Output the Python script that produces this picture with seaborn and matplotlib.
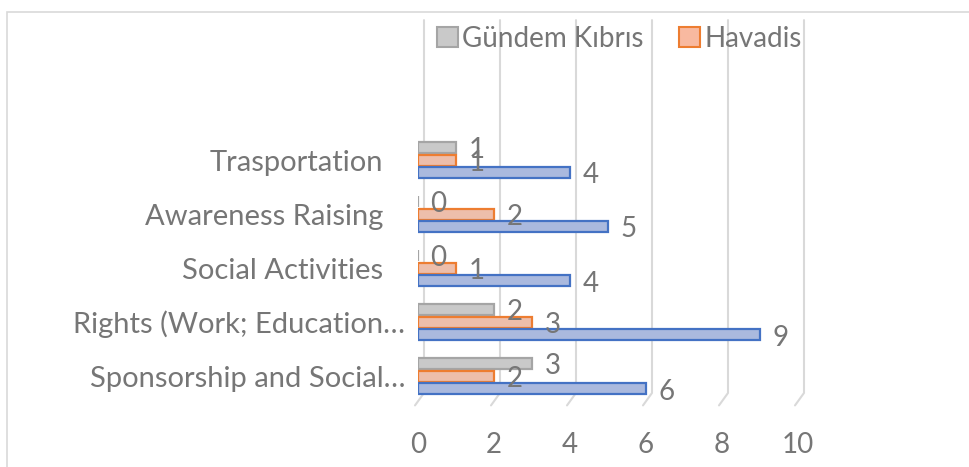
import numpy as np
import pandas as pd
import seaborn as sns
import matplotlib.pyplot as plt
import matplotlib.transforms as mtransforms
from matplotlib.patches import Rectangle, Patch

# data
categories = ['Trasportation', 'Awareness Raising', 'Social Activities',
              'Rights (Work; Education…', 'Sponsorship and Social…']
series = ['Gündem Kıbrıs', 'Havadis', 'Other']
gundem = [1, 0, 0, 2, 3]
havadis = [1, 2, 1, 3, 2]
other = [4, 5, 4, 9, 6]
x_ticks = [0, 2, 4, 6, 8, 10]

df = pd.DataFrame({
    'category': categories * 3,
    'source': np.repeat(series, len(categories)),
    'count': gundem + havadis + other,
})

fills = ['#c9c9c9', '#f8b9a0', '#a2b6e6']
edges = ['#a5a5a5', '#ed7d31', '#4472c4']
txt = '#767676'

sns.set_style('white')
plt.rcParams['font.family'] = ['Lato', 'DejaVu Sans']

W, H = 969, 467
fig = plt.figure(figsize=(W / 100, H / 100), dpi=100)
ax = fig.add_axes([418 / W, 1 - 400 / H, 380 / W, 388 / H])

sns.barplot(
    data=df, y='category', x='count', hue='source',
    order=categories, hue_order=series, palette=fills,
    width=0.7, gap=0.12, orient='h', ax=ax, legend=False
)

# bar edges + data labels
for cont, ec, vals in zip(ax.containers, edges, [gundem, havadis, other]):
    for bar, v in zip(cont, vals):
        bar.set_edgecolor(ec)
        bar.set_linewidth(1.6)
        ax.annotate(
            str(v), (bar.get_width(), bar.get_y() + bar.get_height() / 2),
            xytext=(9, -2), textcoords='offset points',
            ha='left', va='center', fontsize=20, color=txt
        )

ax.set_xlim(0, 10)
ax.set_ylim(4.44, -2.74)
ax.set_xticks(x_ticks)
ax.set_xlabel('')
ax.set_ylabel('')
sns.despine(ax=ax, left=True, bottom=True)
ax.tick_params(axis='x', length=0, labelsize=20, labelcolor=txt, pad=23)
ax.tick_params(axis='y', length=0, labelsize=21, labelcolor=txt, pad=25)

# truncated labels sit a bit further right, as in the source
shift = mtransforms.ScaledTranslation(22 / 100, 0, fig.dpi_scale_trans)
for lab in ax.get_yticklabels():
    if lab.get_text().endswith('…'):
        lab.set_transform(lab.get_transform() + shift)

# 3d-ish gridlines
px = 38.0
for v in x_ticks:
    ax.plot([v + 6 / px, v + 6 / px, v - 3 / px],
            [-2.59, 4.31, 4.54],
            color='#d9d9d9', lw=1.5, zorder=0, clip_on=False)

# chart border
fig.patches.append(Rectangle((7 / W, -0.1), 1.2, (H - 12) / H + 0.1,
                             transform=fig.transFigure, fill=False,
                             ec='#d9d9d9', lw=1.2))

handles = [Patch(fc=fills[i], ec=edges[i], lw=1.5) for i in range(2)]
fig.legend(handles, series[:2], loc='center', bbox_to_anchor=(0.639, 1 - 39 / H),
           ncol=2, frameon=False, fontsize=20, labelcolor=txt,
           handlelength=0.75, handleheight=0.75, handletextpad=0.15,
           columnspacing=1.3)

fig.savefig('out.png', dpi=100)
